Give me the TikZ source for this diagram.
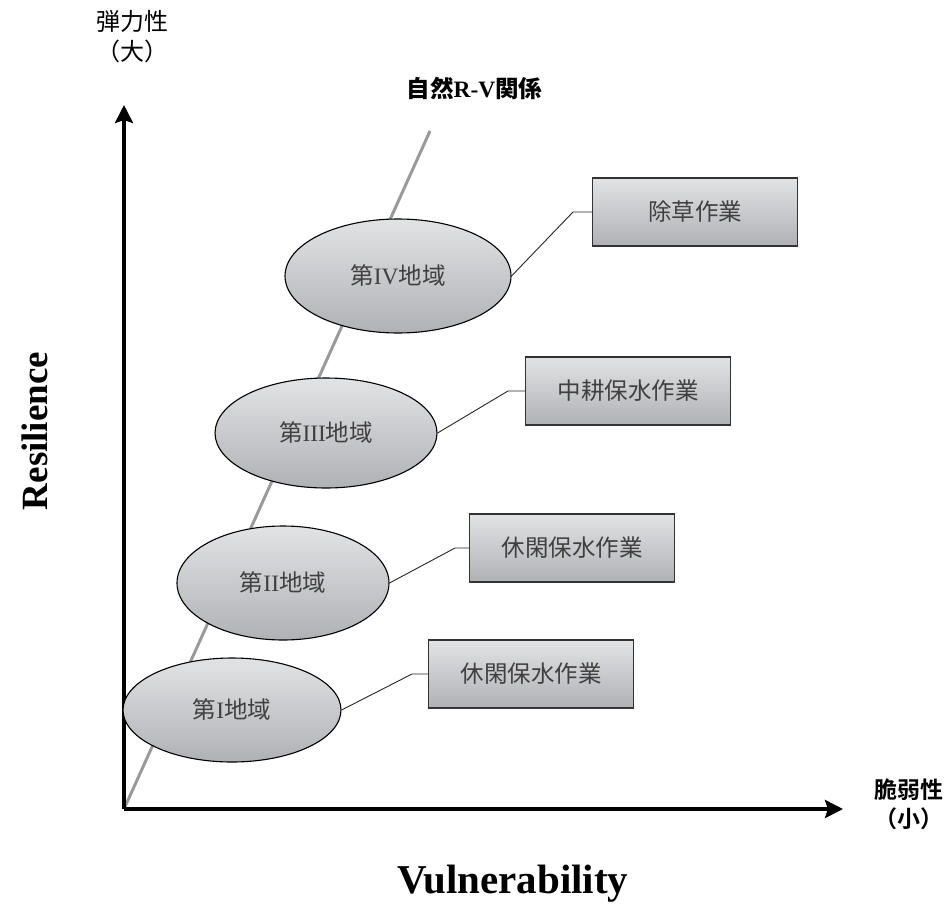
\documentclass[tikz,border=0pt]{standalone}
\usepackage{fontspec}
\setmainfont{Liberation Serif}
\newfontfamily\jp{Noto Sans CJK JP}
\newfontfamily\jpb{Noto Sans CJK JP Bold}
\usetikzlibrary{arrows.meta,shapes.geometric}
\definecolor{shtop}{HTML}{E2E3E5}
\definecolor{shbot}{HTML}{B0B1B5}
\definecolor{txt}{HTML}{404040}
\definecolor{rvline}{HTML}{9A9A9A}
\tikzset{
  axis/.style={line width=3.5pt,-{Stealth[length=18pt,width=18pt,inset=3pt]}},
  region/.style={ellipse,draw=black,line width=1.1pt,top color=shtop,bottom color=shbot,
    minimum width=222pt,minimum height=110pt,inner sep=0pt,text=txt,font=\fontsize{23.5}{26}\selectfont},
  work/.style={rectangle,draw=black!80,line width=1.3pt,top color=shtop,bottom color=shbot,
    minimum width=205pt,minimum height=68pt,inner sep=0pt,text=txt,font=\jp\fontsize{23.5}{26}\selectfont},
  link/.style={line width=0.9pt,draw=black!85},
}
\begin{document}
\begin{tikzpicture}[x=1pt,y=-1pt]
\useasboundingbox (0,0) rectangle (952,923);

% natural R-V relation line
\coordinate (O) at (124,809);
\coordinate (rvtop) at (430,131);
\draw[rvline,line width=3pt] (O) -- (rvtop);

% axes
\coordinate (ytip) at (124,105);
\coordinate (xtip) at (843,809);
\draw[axis] (O) -- (ytip);
\draw[axis] (O) -- (xtip);

% regions
\node[region,minimum width=226pt,minimum height=114pt] (r4) at (398,276) {{\jp 第}IV{\jp 地域}};
\node[region] (r3) at (326,433) {{\jp 第}III{\jp 地域}};
\node[region,minimum width=212pt,minimum height=114pt] (r2) at (283,583) {{\jp 第}II{\jp 地域}};
\node[region,minimum width=218pt,minimum height=104pt] (r1) at (232,710) {{\jp 第}I{\jp 地域}};

% work boxes
\node[work] (w4) at (695,212) {除草作業};
\node[work] (w3) at (628,391) {中耕保水作業};
\node[work] (w2) at (572,548) {休閑保水作業};
\node[work] (w1) at (531,674) {休閑保水作業};

% connectors
\draw[link] (r4.east) -- (573,212) -- (w4.west);
\draw[link] (r3.east) -- (508,391) -- (w3.west);
\draw[link] (r2.east) -- (455,548) -- (w2.west);
\draw[link] (r1.east) -- (412,674) -- (w1.west);

% labels
\node[font=\jp\fontsize{24}{30}\selectfont,align=center] (yl) at (132,37) {弾力性\\（大）};
\node[font=\jpb\fontsize{23}{29}\selectfont,align=center] (xl) at (909,804) {脆弱性\\（小）};
\node[font=\bfseries\fontsize{23.5}{28}\selectfont,anchor=west] (rv) at (403,88) {{\jpb 自然}R-V{\jpb 関係}};
\node[font=\bfseries\fontsize{37}{40}\selectfont,rotate=90] (res) at (35,431) {Resilience};
\node[font=\bfseries\fontsize{41}{44}\selectfont] (vul) at (513,884) {Vulnerability};
\end{tikzpicture}
\end{document}
